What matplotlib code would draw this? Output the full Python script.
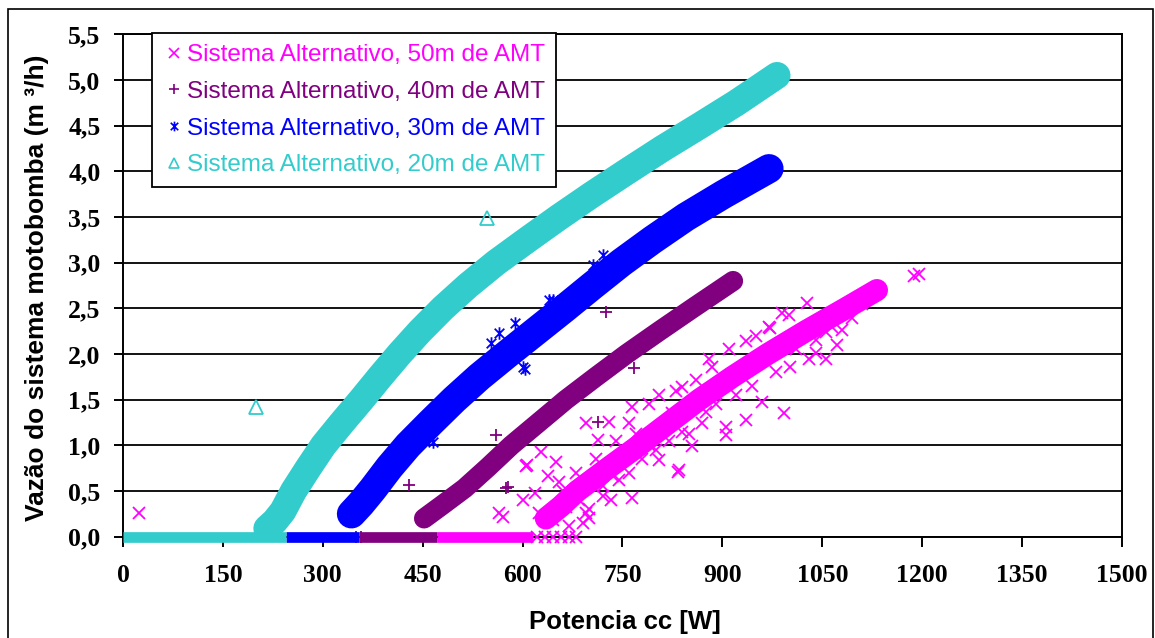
import numpy as np
import matplotlib.pyplot as plt
from matplotlib.lines import Line2D
from matplotlib.path import Path
from matplotlib.patches import Rectangle

# valores: potencia cc [W] x vazao [m3/h]
# linha central da nuvem densa de cada serie
p50 = [635, 657, 682, 728, 775, 820, 865, 915, 968, 1025, 1085, 1132]
q50 = [0.2, 0.33, 0.5, 0.75, 1.0, 1.25, 1.5, 1.75, 2.0, 2.25, 2.5, 2.7]
p40 = [452, 480, 513, 548, 583, 624, 665, 710, 756, 805, 855, 916]
q40 = [0.2, 0.35, 0.53, 0.76, 1.0, 1.25, 1.5, 1.75, 2.0, 2.25, 2.5, 2.8]
p30 = [343, 357, 375, 400, 428, 462, 497, 535, 577, 620, 663, 705, 748, 795, 845, 902, 970]
q30 = [0.25, 0.36, 0.52, 0.76, 1.0, 1.25, 1.5, 1.75, 2.0, 2.25, 2.5, 2.75, 3.0, 3.25, 3.5, 3.75, 4.03]
p20 = [216, 228, 240, 256, 278, 301, 329, 358, 386, 415, 446, 480, 518, 560, 607, 655, 705, 757, 810, 866, 921, 982]
q20 = [0.09, 0.17, 0.28, 0.5, 0.75, 1.0, 1.25, 1.5, 1.75, 2.0, 2.25, 2.5, 2.75, 3.0, 3.25, 3.5, 3.75, 4.0, 4.25, 4.5, 4.75, 5.05]

# trechos com vazao zero
zero50 = [471, 615]
zero40 = [355, 471]
zero30 = [245, 355]
zero20 = [0, 245]

# pontos isolados / dispersos em volta das faixas
out50_p = [1187, 1195, 1027, 1000, 972, 1080, 1072, 1055, 1030, 1002, 935, 960, 993, 935, 905, 905,
           855, 835, 805, 765, 733, 695, 699, 570, 605, 628, 650, 638, 600, 618, 695, 730, 713, 765,
           805, 860, 840, 885, 970, 1055, 1040, 825, 875, 815, 750, 735, 685, 665, 645, 625, 700,
           770, 790, 850, 24, 565, 607, 834, 1110, 1120, 622, 634, 646, 658, 670, 680,
           720, 745, 760, 780, 800, 820, 840, 870, 890, 920, 945, 980, 1010, 1040, 1065, 1095,
           700, 720, 660, 680, 710, 740, 690, 670, 655, 760, 790, 830, 880, 910, 950, 990]
out50_q = [2.86, 2.88, 2.56, 2.43, 2.28, 2.26, 2.10, 1.95, 1.95, 1.86, 2.14, 1.48, 1.35, 1.28, 1.11, 1.2,
           0.99, 0.73, 0.84, 0.42, 0.40, 0.26, 0.2, 0.22, 0.77, 0.93, 0.82, 0.66, 0.40, 0.48, 1.24, 1.26, 1.06, 1.42,
           1.55, 1.72, 1.64, 1.86, 2.30, 2.24, 2.01, 1.35, 1.37, 1.20, 0.84, 0.66, 0.40, 0.33, 0.18, 0.26, 0.62,
           1.13, 1.00, 1.13, 0.26, 0.26, 0.78, 0.71, 2.55, 2.62, 0, 0, 0, 0, 0, 0,
           0.55, 0.62, 0.7, 0.85, 0.95, 1.05, 1.15, 1.25, 1.45, 1.55, 1.65, 1.8, 2.05, 2.15, 2.3, 2.4,
           0.3, 0.45, 0.5, 0.7, 0.85, 1.05, 0.15, 0.12, 0.6, 1.25, 1.45, 1.6, 1.95, 2.05, 2.2, 2.45]
out40_p = [725, 768, 713, 560, 578, 430, 575, 350, 358]
out40_q = [2.46, 1.85, 1.26, 1.11, 0.54, 0.57, 0.53, 0, 0]
out30_p = [588, 565, 553, 600, 645, 465, 603, 640, 720, 705]
out30_q = [2.34, 2.23, 2.12, 1.86, 2.59, 1.04, 1.84, 2.59, 3.08, 2.97]
out20_p = [546, 199]
out20_q = [3.49, 1.42]

labels = ["Sistema Alternativo, 50m de AMT", "Sistema Alternativo, 40m de AMT",
          "Sistema Alternativo, 30m de AMT", "Sistema Alternativo, 20m de AMT"]
colors = ["#FF00FF", "#800080", "#0000FF", "#33CCCC"]

xticks = [0, 150, 300, 450, 600, 750, 900, 1050, 1200, 1350, 1500]
yticks = [0, 0.5, 1.0, 1.5, 2.0, 2.5, 3.0, 3.5, 4.0, 4.5, 5.0, 5.5]
ytick_labels = ["0,0", "0,5", "1,0", "1,5", "2,0", "2,5", "3,0", "3,5", "4,0", "4,5", "5,0", "5,5"]

# marcador asterisco do excel (x com traco vertical)
star = Path([(-1, -1), (1, 1), (-1, 1), (1, -1), (0, -1.3), (0, 1.3)],
            [Path.MOVETO, Path.LINETO, Path.MOVETO, Path.LINETO, Path.MOVETO, Path.LINETO])
markers = ["x", "+", star, "^"]

fig = plt.figure(figsize=(11.55, 6.38), dpi=100)
ax = fig.add_axes([123 / 1155, 1 - 536.7 / 638, 999 / 1155, 502.3 / 638])

bands = [(p50, q50, zero50, out50_p, out50_q, 16),
         (p40, q40, zero40, out40_p, out40_q, 14.5),
         (p30, q30, zero30, out30_p, out30_q, 21),
         (p20, q20, zero20, out20_p, out20_q, 19.5)]

for i, (p, q, z, op, oq, w) in enumerate(bands):
    c = colors[i]
    zo = 3 + i
    ax.plot(z, [0, 0], color=c, lw=7.7, solid_capstyle='butt', zorder=zo, clip_on=False)
    ax.plot(p, q, color=c, lw=w, solid_capstyle='round', solid_joinstyle='round', zorder=zo)
    ax.plot(op, oq, ls='none', marker=markers[i], ms=9 if i != 3 else 9.5,
            mec=c, mfc='none', mew=1.3, color=c, zorder=zo, clip_on=False)

ax.set_xlim(0, 1500)
ax.set_ylim(0, 5.5)
ax.set_xticks(xticks)
ax.set_xticklabels([str(t) for t in xticks])
ax.set_yticks(yticks)
ax.set_yticklabels(ytick_labels)

ax.yaxis.grid(True, color='black', lw=1.3)
ax.set_axisbelow(True)
for s in ax.spines.values():
    s.set_color('black')
    s.set_linewidth(1.4)

ax.tick_params(axis='x', direction='out', length=7, width=1.4, pad=13)
ax.tick_params(axis='y', direction='out', length=6.7, width=1.4, pad=9.5)
for t in ax.get_xticklabels() + ax.get_yticklabels():
    t.set_fontfamily('Liberation Serif')
    t.set_fontweight('bold')
    t.set_fontsize(18.5)

fig.text(625 / 1155, 1 - 622 / 638, "Potencia cc [W]", ha='center', va='center',
         fontfamily='Liberation Sans', fontweight='bold', fontsize=18.5)
fig.text(37 / 1155, 1 - 288 / 638, "Vazão do sistema motobomba (m ³/h)", ha='center', va='center',
         rotation=90, fontfamily='Liberation Sans', fontweight='bold', fontsize=19)

handles = [Line2D([], [], ls='none', marker=markers[i], ms=7, mec=colors[i], mfc='none', mew=1.2)
           for i in range(4)]
leg = ax.legend(handles, labels, loc='upper left', bbox_to_anchor=(0.029, 1.002), borderaxespad=0,
                frameon=True, fancybox=False, edgecolor='black', framealpha=1,
                prop={'family': 'Liberation Sans', 'size': 17.5}, labelcolor=colors,
                handlelength=0.9, handletextpad=0.1, borderpad=0.45, labelspacing=0.6)
leg.get_frame().set_linewidth(1.3)
leg.set_zorder(10)

fig.add_artist(Rectangle((8 / 1155, -0.05), 1145 / 1155, 1.05 - 9 / 638, transform=fig.transFigure,
                         fill=False, edgecolor='black', lw=1.2))

fig.savefig("out.png", dpi=100)
